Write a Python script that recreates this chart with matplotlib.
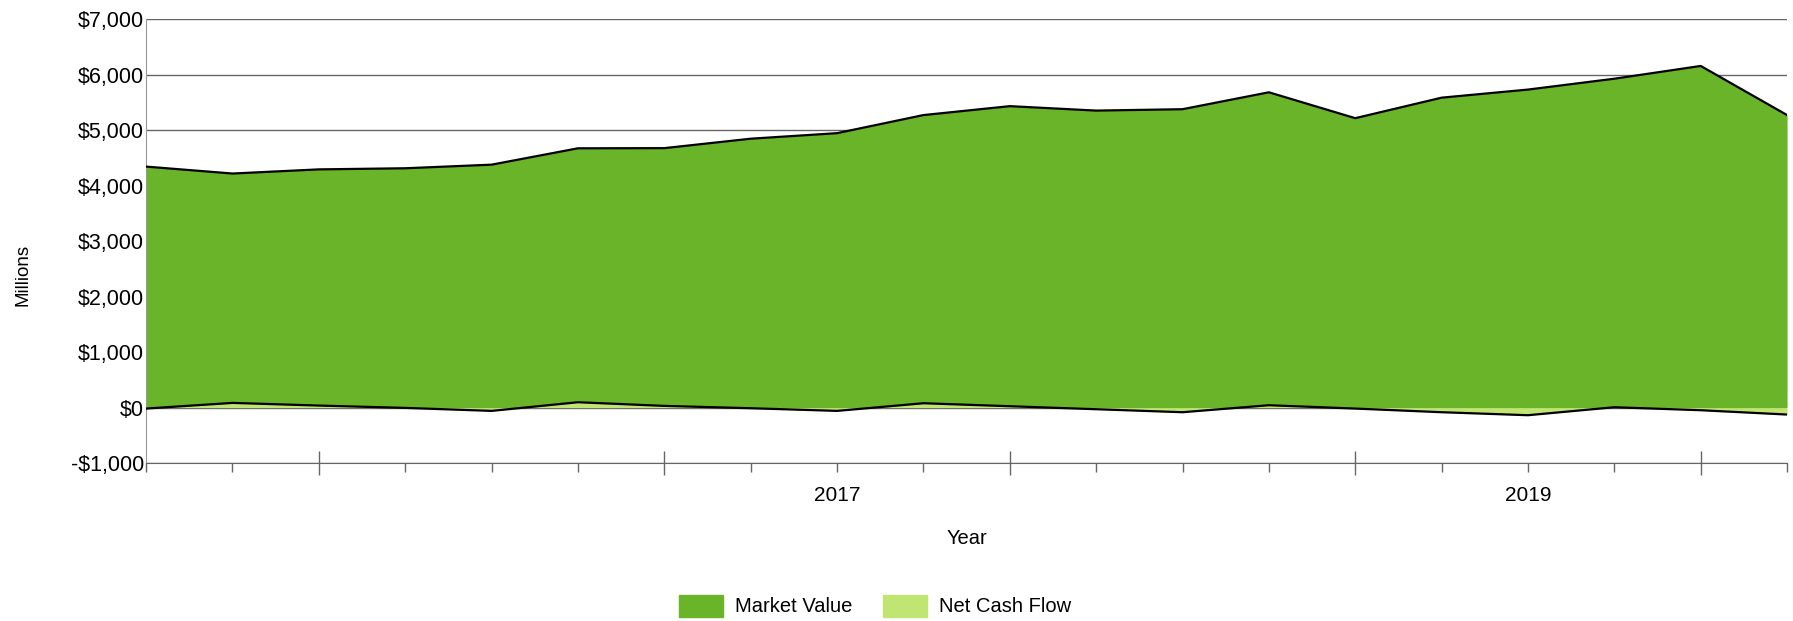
import matplotlib.pyplot as plt
from matplotlib.patches import Patch
from matplotlib.ticker import FixedLocator, FuncFormatter

plt.rcParams['font.family'] = ['Liberation Sans', 'DejaVu Sans']

# quarterly points (millions of $)
quarters = ["2015 Q3", "2015 Q4", "2016 Q1", "2016 Q2", "2016 Q3", "2016 Q4",
            "2017 Q1", "2017 Q2", "2017 Q3", "2017 Q4", "2018 Q1", "2018 Q2",
            "2018 Q3", "2018 Q4", "2019 Q1", "2019 Q2", "2019 Q3", "2019 Q4",
            "2020 Q1", "2020 Q2"]
market_value = [4345, 4220, 4295, 4315, 4380, 4675, 4678, 4848, 4948, 5274,
                5435, 5355, 5380, 5685, 5218, 5588, 5734, 5930, 6160, 5274]
net_cash_flow = [-18, 84, 36, -6, -60, 96, 30, -12, -60, 78,
                 24, -30, -84, 42, -18, -84, -138, 6, -48, -126]
year_labels = ["2017", "2019"]
y_ticks = [-1000, 0, 1000, 2000, 3000, 4000, 5000, 6000, 7000]

dark_green = "#6ab42a"
light_green = "#c0e573"

x = list(range(len(quarters)))

fig = plt.figure(figsize=(17.93, 6.21), dpi=100)
ax = fig.add_axes([0.0815, 0.2544, 0.9152, 0.7144])

ax.fill_between(x, 0, market_value, color=dark_green, lw=0, zorder=2)
ax.fill_between(x, 0, net_cash_flow, color=light_green, lw=0, zorder=3)
ax.plot(x, market_value, color="black", lw=1.6, zorder=4)
ax.plot(x, net_cash_flow, color="black", lw=1.6, zorder=4)

ax.set_xlim(0, len(quarters) - 1)
ax.set_ylim(-1000, 7000)
ax.set_yticks(y_ticks)
ax.yaxis.set_major_formatter(FuncFormatter(
    lambda v, p: ("-$" if v < 0 else "$") + f"{abs(int(v)):,}"))
ax.grid(axis="y", color="#666666", lw=1, zorder=1)
ax.tick_params(axis="y", length=0, pad=1.5, labelsize=15.5, colors="black")

# year boundaries = long ticks, every quarter = short tick
year_starts = [i for i, q in enumerate(quarters) if q.endswith("Q1")]
label_pos = {quarters.index(y + " Q3"): y for y in year_labels}
ax.xaxis.set_major_locator(FixedLocator(year_starts))
ax.xaxis.set_major_formatter(FuncFormatter(lambda v, p: ""))
ax.xaxis.set_minor_locator(FixedLocator(x))
ax.xaxis.set_minor_formatter(FuncFormatter(lambda v, p: label_pos.get(int(round(v)), "")))
ax.tick_params(axis="x", which="major", direction="inout", length=17, width=1, color="#666666")
ax.tick_params(axis="x", which="minor", direction="out", length=6.5, width=1, color="#666666",
               pad=10, labelsize=15)

for side in ["top", "right"]:
    ax.spines[side].set_visible(False)
ax.spines["left"].set_color("#999999")
ax.spines["bottom"].set_color("#666666")

ax.set_xlabel("Year", fontsize=14.5)
ax.xaxis.set_label_coords(0.5, -0.149)
ax.set_ylabel("Millions", fontsize=13.5)
ax.yaxis.set_label_coords(-0.0701, 0.424)

handles = [Patch(color=dark_green, label="Market Value"),
           Patch(color=light_green, label="Net Cash Flow")]
fig.legend(handles=handles, loc="lower center", bbox_to_anchor=(0.488, -0.022), ncol=2,
           frameon=False, fontsize=14.5, handlelength=2.2, handleheight=1.3,
           handletextpad=0.6, columnspacing=1.5)

fig.savefig("out.png", dpi=100)
